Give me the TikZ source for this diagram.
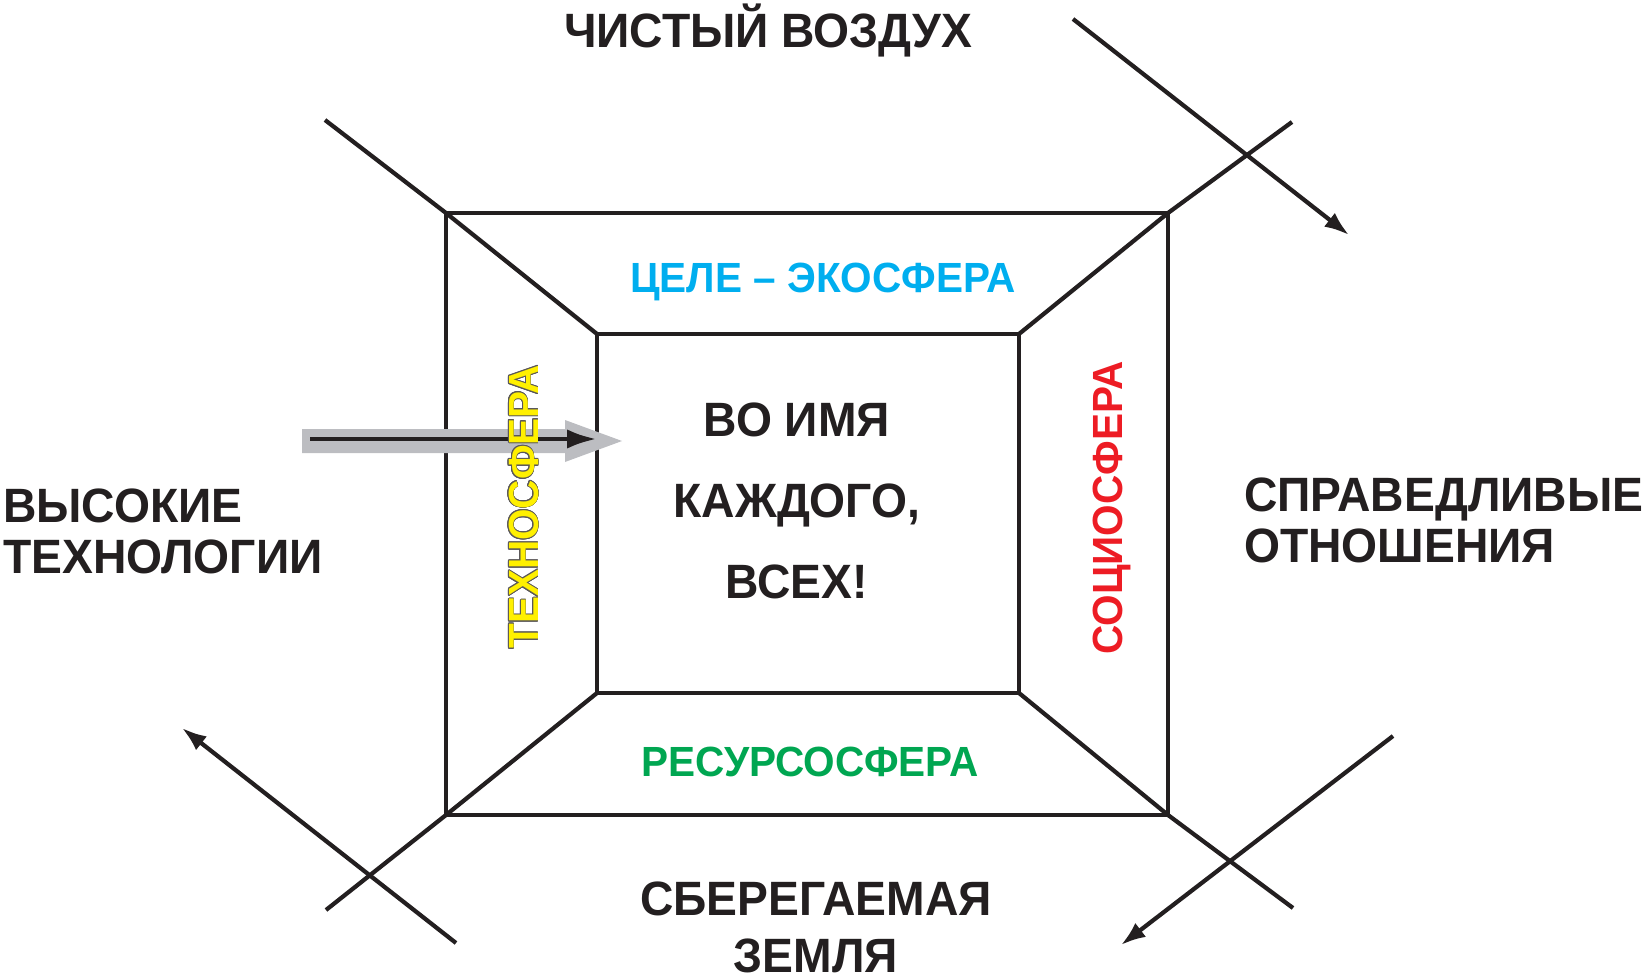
\documentclass[tikz,border=0pt]{standalone}
\usepackage{fontspec}
\setmainfont{Liberation Sans}[FakeStretch=0.96]
\usepackage{contour}
\contourlength{0.25pt}
\usetikzlibrary{arrows.meta}
\definecolor{ink}{RGB}{35,31,32}
\definecolor{ecoblue}{RGB}{0,174,239}
\definecolor{technoyellow}{RGB}{255,240,0}
\definecolor{socired}{RGB}{237,28,36}
\definecolor{resgreen}{RGB}{0,166,81}
\definecolor{shadowgray}{RGB}{188,189,193}

\begin{document}
\begin{tikzpicture}[x=0.01cm, y=-0.01cm, color=ink, line width=1.2pt, >={Latex[length=7pt,width=5pt]},
    lbl/.style={font=\fontsize{13.7}{14.4}\selectfont\bfseries, text=ink, inner sep=0pt},
    sph/.style={font=\fontsize{12}{14}\selectfont\bfseries, inner sep=0pt}]
    \useasboundingbox (0,0) rectangle (1645,976);
    \coordinate (oNW) at (446,213);  \coordinate (oNE) at (1168,213);
    \coordinate (oSW) at (446,815);  \coordinate (oSE) at (1168,815);
    \coordinate (iNW) at (597,334);  \coordinate (iNE) at (1019,334);
    \coordinate (iSW) at (597,693);  \coordinate (iSE) at (1019,693);
    \draw (oNW) rectangle (oSE);
    \draw (iNW) rectangle (iSE);
    \foreach \c/\x/\y in {NW/325/120,NE/1292/122,SW/326/910,SE/1293/908} {
      \draw (i\c) -- (o\c) -- (\x,\y);
    }
    \coordinate (airA) at (1073,19);   \coordinate (airB) at (1349,235);
    \coordinate (techA) at (456,943);  \coordinate (techB) at (182,728);
    \coordinate (earthA) at (1393,736); \coordinate (earthB) at (1121,945);
    \draw[->] (airA) -- (airB);
    \draw[->] (techA) -- (techB);
    \draw[->] (earthA) -- (earthB);
    \fill[shadowgray] (302,429) -- (565,429) -- (565,420) -- (622,441) -- (565,462) -- (565,453) -- (302,453) -- cycle;
    \coordinate (inA) at (310,439);  \coordinate (inB) at (597,439);
    \draw[-{Latex[length=8.5pt,width=5.5pt]}, line width=1.4pt] (inA) -- (inB);
    \node[lbl, anchor=base] (air) at (768,48) {ЧИСТЫЙ ВОЗДУХ};
    \node[lbl, anchor=north west, align=left] (tech) at (1,487) {ВЫСОКИЕ\\ТЕХНОЛОГИИ};
    \node[lbl, anchor=north west, align=left] (fair) at (1242,476) {СПРАВЕДЛИВЫЕ\\ОТНОШЕНИЯ};
    \node[lbl, anchor=north, align=center, font=\fontsize{13.7}{16}\selectfont\bfseries] (earth) at (816,880) {СБЕРЕГАЕМАЯ\\ЗЕМЛЯ};
    \node[lbl, anchor=north, align=center, font=\fontsize{13.7}{23}\selectfont\bfseries] (name) at (797,401) {ВО ИМЯ\\КАЖДОГО,\\ВСЕХ!};
    \node[sph, text=ecoblue, anchor=base] (eco) at (823,293) {ЦЕЛЕ – ЭКОСФЕРА};
    \node[sph, text=resgreen, anchor=base] (res) at (810,776) {РЕСУРСОСФЕРА};
    \node[sph, text=technoyellow, anchor=base, rotate=90] (techno) at (538,507) {\contour{ink!75}{ТЕХНОСФЕРА}};
    \node[sph, text=socired, anchor=base, rotate=90] (socio) at (1122,508) {СОЦИОСФЕРА};
\end{tikzpicture}
\end{document}
